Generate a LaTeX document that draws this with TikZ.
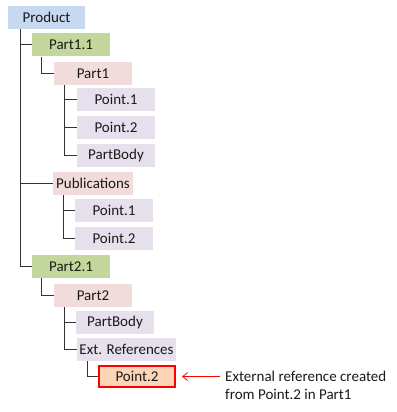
\documentclass[tikz,border=0pt]{standalone}
\usepackage{fontspec}
\setmainfont{Carlito}
\usetikzlibrary{arrows.meta}
\definecolor{cprod}{HTML}{C6D9F0}
\definecolor{cgreen}{HTML}{C3D69B}
\definecolor{cpink}{HTML}{F2DCDB}
\definecolor{clav}{HTML}{E6E0EC}
\definecolor{corange}{HTML}{FBD5B5}
\definecolor{cline}{HTML}{333333}
\definecolor{ctext}{HTML}{1A1A1A}
\tikzset{
  box/.style={minimum height=23pt, inner sep=0pt, font=\fontsize{15}{17}\selectfont, text=ctext},
  prodbox/.style={box, fill=cprod, minimum width=77pt},
  grbox/.style={box, fill=cgreen, minimum width=78pt},
  pkbox/.style={box, fill=cpink, minimum width=78pt},
  lvbox/.style={box, fill=clav, minimum width=78pt},
  hlbox/.style={box, fill=corange, draw=red, line width=2pt, minimum width=76pt, minimum height=21pt},
  tree/.style={cline, line width=1pt},
}
\begin{document}
\begin{tikzpicture}[x=1pt,y=-1pt]
\useasboundingbox (0,0) rectangle (396,412);
\node[prodbox] (prod) at (46.5,17.5) {Product};
\node[grbox] (p11) at (71,45) {Part1.1};
\node[pkbox] (p1) at (93,73.5) {Part1};
\node[lvbox] (a1) at (116,99.5) {Point.1};
\node[lvbox] (a2) at (116,127.5) {Point.2};
\node[lvbox] (ab) at (116,155.5) {PartBody};
\node[pkbox, minimum width=80pt] (pub) at (93,183.5) {Publications};
\node[lvbox] (b1) at (114,210.5) {Point.1};
\node[lvbox] (b2) at (114,238.5) {Point.2};
\node[grbox] (p21) at (71,266.5) {Part2.1};
\node[pkbox] (p2) at (93,295.5) {Part2};
\node[lvbox] (cb) at (115,322) {PartBody};
\node[lvbox, minimum width=99pt] (ext) at (126.5,349.5) {Ext. References};
\node[hlbox] (hp) at (137,376.5) {Point.2};
\node[align=left, anchor=west, inner sep=0pt, font=\fontsize{15}{18}\selectfont, text=ctext] (note) at (225,385.5) {External reference created\\from Point.2 in Part1};

% trunk from Product
\draw[tree] ([xshift=-26.5pt]prod.south) |- (p11.west);
\draw[tree] ([xshift=-26.5pt]prod.south) |- (pub.west);
\draw[tree] ([xshift=-26.5pt]prod.south) |- (p21.west);
% Part1.1
\draw[tree] ([xshift=-30pt]p11.south) |- (p1.west);
% Part1
\draw[tree] ([xshift=-29pt]p1.south) |- (a1.west);
\draw[tree] ([xshift=-29pt]p1.south) |- (a2.west);
\draw[tree] ([xshift=-29pt]p1.south) |- (ab.west);
% Publications
\draw[tree] ([xshift=-30pt]pub.south) |- (b1.west);
\draw[tree] ([xshift=-30pt]pub.south) |- (b2.west);
% Part2.1
\draw[tree] ([xshift=-30pt]p21.south) |- (p2.west);
% Part2
\draw[tree] ([xshift=-29pt]p2.south) |- (cb.west);
\draw[tree] ([xshift=-29pt]p2.south) |- (ext.west);
% Ext references
\draw[tree] ([xshift=-39.5pt]ext.south) |- (hp.west);
% annotation arrow
\draw[red, line width=0.8pt, -{Straight Barb[length=5pt,width=8pt]}] ([xshift=-5pt]note.west |- hp.east) -- ([xshift=6pt]hp.east);
\end{tikzpicture}
\end{document}
